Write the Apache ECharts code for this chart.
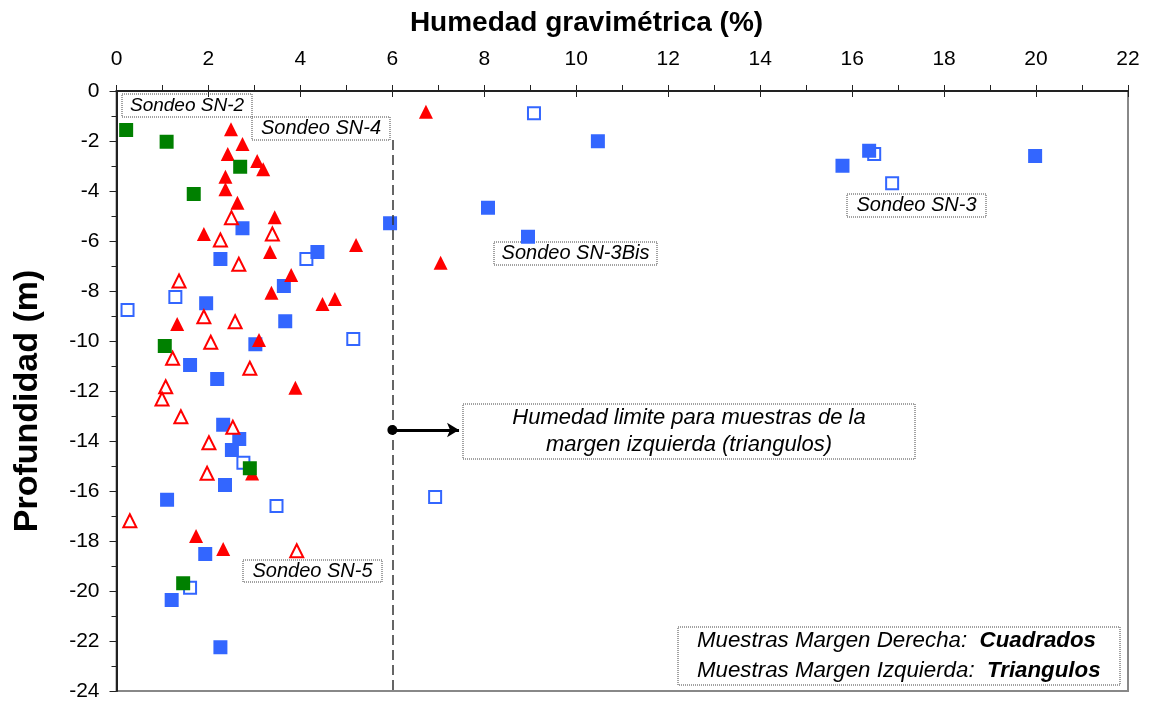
<!DOCTYPE html>
<html>
<head>
<meta charset="utf-8">
<script src="https://cdn.jsdelivr.net/npm/echarts@6/dist/echarts.min.js"></script>
<style>
  html, body { margin: 0; padding: 0; background: #fff; }
  #chart { width: 1150px; height: 702px; }
</style>
</head>
<body>
<div id="chart"></div>
<script>
// ejes
var xTicks = [0, 2, 4, 6, 8, 10, 12, 14, 16, 18, 20, 22];
var yTicks = [0, -2, -4, -6, -8, -10, -12, -14, -16, -18, -20, -22, -24];

// [humedad %, profundidad m]
var verdeLlenos = [[0.21,-1.56],[1.09,-2.03],[2.69,-3.03],[1.68,-4.12],[1.05,-10.2],[2.90,-15.09],[1.45,-19.69]];
var azulLlenos = [[2.74,-5.49],[2.26,-6.72],[4.37,-6.44],[5.95,-5.29],[3.64,-7.8],[1.95,-8.49],[3.67,-9.21],
    [3.02,-10.13],[1.60,-10.96],[2.19,-11.52],[2.32,-13.35],[2.67,-13.92],[2.51,-14.36],[2.36,-15.76],
    [1.10,-16.35],[1.93,-18.52],[1.20,-20.36],[2.26,-22.25],[10.47,-2.01],[8.08,-4.67],[8.95,-5.83],
    [16.37,-2.39],[15.79,-2.99],[19.98,-2.6]];
var azulHuecos = [[4.13,-6.72],[1.28,-8.24],[0.24,-8.76],[5.15,-9.92],[2.76,-14.87],[3.48,-16.6],
    [1.60,-19.87],[9.08,-0.89],[16.48,-2.52],[16.87,-3.69],[6.93,-16.24]];
var rojoLlenos = [[2.49,-1.53],[2.74,-2.12],[2.42,-2.52],[3.06,-2.80],[3.19,-3.13],[2.37,-3.43],[2.37,-3.93],
    [2.63,-4.47],[3.44,-5.05],[1.90,-5.72],[3.34,-6.44],[5.21,-6.16],[3.80,-7.36],[3.37,-8.07],[4.48,-8.52],
    [4.75,-8.32],[1.32,-9.32],[3.10,-9.96],[3.89,-11.87],[2.95,-15.3],[1.73,-17.8],[2.32,-18.32],
    [6.73,-0.83],[7.05,-6.87]];
var rojoHuecos = [[2.50,-5.07],[3.39,-5.72],[2.26,-5.96],[2.66,-6.93],[1.36,-7.6],[1.90,-9.03],[2.58,-9.23],
    [2.05,-10.05],[1.22,-10.69],[2.90,-11.09],[1.07,-11.83],[0.99,-12.32],[1.40,-13.03],[2.53,-13.45],
    [2.01,-14.07],[1.97,-15.29],[0.29,-17.19],[3.92,-18.39]];

// linea limite y flecha
var limiteHumedad = 6;
var limiteDesde = -1.96;
var flecha = [[6, -13.56], [7.45, -13.56]];

var fuente = '"Liberation Sans", Arial, sans-serif';
var myChart = echarts.init(document.getElementById('chart'));

function caja(x, y, w, h, texto, size) {
    return {
        type: 'group',
        children: [
            {type: 'rect', shape: {x: x, y: y, width: w, height: h},
             style: {fill: '#fff', stroke: '#444', lineWidth: 1, lineDash: [1, 1]}},
            {type: 'text', x: x + w / 2, y: y + h / 2,
             style: {text: texto, fontFamily: fuente, fontStyle: 'italic', fontSize: size,
                     fill: '#000', align: 'center', verticalAlign: 'middle', lineHeight: 27}}
        ]
    };
}

var option = {
    animation: false,
    grid: {left: 116.5, right: 22, top: 91, bottom: 11, show: true, borderColor: '#888', borderWidth: 2, backgroundColor: 'transparent'},
    xAxis: [{
        type: 'value', position: 'top', min: xTicks[0], max: xTicks[xTicks.length - 1], interval: 2,
        axisLine: {show: true, onZero: false, lineStyle: {color: '#222', width: 2}},
        axisTick: {show: true, length: 6, lineStyle: {color: '#222', width: 1}},
        minorTick: {show: true, splitNumber: 2, length: 6, lineStyle: {color: '#222', width: 1}},
        splitLine: {show: false},
        axisLabel: {fontFamily: fuente, fontSize: 21, color: '#000', margin: 21}
    }, {
        type: 'value', position: 'top', min: xTicks[0], max: xTicks[xTicks.length - 1], interval: 2,
        axisLine: {show: false},
        axisTick: {show: true, inside: true, length: 6, lineStyle: {color: '#222', width: 1}},
        axisLabel: {show: false}, splitLine: {show: false}
    }],
    yAxis: {
        type: 'value', min: yTicks[yTicks.length - 1], max: yTicks[0], interval: 2,
        axisLine: {show: true, onZero: false, lineStyle: {color: '#222', width: 2}},
        axisTick: {show: true, length: 7, lineStyle: {color: '#222', width: 1}},
        minorTick: {show: true, splitNumber: 2, length: 5, lineStyle: {color: '#222', width: 1}},
        splitLine: {show: false},
        axisLabel: {fontFamily: fuente, fontSize: 21, color: '#000', margin: 17}
    },
    graphic: [
        {type: 'text', x: 586.5, y: 23, style: {text: 'Humedad gravimétrica (%)', fontFamily: fuente, fontWeight: 'bold',
            fontSize: 28, fill: '#000', align: 'center', verticalAlign: 'middle'}},
        {type: 'text', x: 28, y: 401, rotation: Math.PI / 2, style: {text: 'Profundidad (m)', fontFamily: fuente,
            fontWeight: 'bold', fontSize: 34, fill: '#000', align: 'center', verticalAlign: 'middle'}},
        caja(122, 94, 130, 23, 'Sondeo SN-2', 19),
        caja(252, 117, 138, 23, 'Sondeo SN-4', 20),
        caja(847, 194, 139, 23, 'Sondeo SN-3', 20),
        caja(494, 242, 163, 23, 'Sondeo SN-3Bis', 20),
        caja(243, 560, 139, 22, 'Sondeo SN-5', 20),
        caja(463, 404, 452, 55, 'Humedad limite para muestras de la\nmargen izquierda (triangulos)', 22),
        {type: 'group', children: [
            {type: 'rect', shape: {x: 678, y: 627, width: 442, height: 58},
             style: {fill: '#fff', stroke: '#444', lineWidth: 1, lineDash: [1, 1]}},
            {type: 'text', x: 697, y: 656,
             style: {text: 'Muestras Margen Derecha:  {b|Cuadrados}\nMuestras Margen Izquierda:  {b|Triangulos}',
                 fontFamily: fuente, fontStyle: 'italic', fontSize: 22.3, fill: '#000', lineHeight: 30,
                 align: 'left', verticalAlign: 'middle',
                 rich: {b: {fontFamily: fuente, fontStyle: 'italic', fontWeight: 'bold', fontSize: 22.3, lineHeight: 30}}}}
        ]}
    ],
    series: [
        {
            name: 'guias', type: 'scatter', data: [], silent: true,
            markLine: {
                silent: true, animation: false, label: {show: false},
                data: [
                    [{coord: [limiteHumedad, limiteDesde], symbol: 'none', lineStyle: {color: '#333', width: 1.5, type: [10, 5]}},
                     {coord: [limiteHumedad, yTicks[yTicks.length - 1]], symbol: 'none'}],
                    [{coord: flecha[0], symbol: 'circle', symbolSize: 10, lineStyle: {color: '#000', width: 3, type: 'solid'}},
                     {coord: flecha[1], symbol: 'arrow', symbolSize: [11, 12]}]
                ]
            }
        },
        {name: 'Cuadrados huecos', type: 'scatter', data: azulHuecos, symbol: 'rect', symbolSize: 12,
         itemStyle: {color: '#fff', borderColor: '#3366ff', borderWidth: 2, opacity: 1}},
        {name: 'Cuadrados azules', type: 'scatter', data: azulLlenos, symbol: 'rect', symbolSize: 14,
         itemStyle: {color: '#3366ff', opacity: 1}},
        {name: 'Triangulos huecos', type: 'scatter', data: rojoHuecos, symbol: 'triangle', symbolSize: 13,
         itemStyle: {color: '#fff', borderColor: '#ff0000', borderWidth: 2, opacity: 1}},
        {name: 'Triangulos rojos', type: 'scatter', data: rojoLlenos, symbol: 'triangle', symbolSize: 14,
         itemStyle: {color: '#ff0000', opacity: 1}},
        {name: 'Cuadrados verdes', type: 'scatter', data: verdeLlenos, symbol: 'rect', symbolSize: 14,
         itemStyle: {color: '#008000', opacity: 1}}
    ]
};
myChart.setOption(option);
</script>
</body>
</html>
